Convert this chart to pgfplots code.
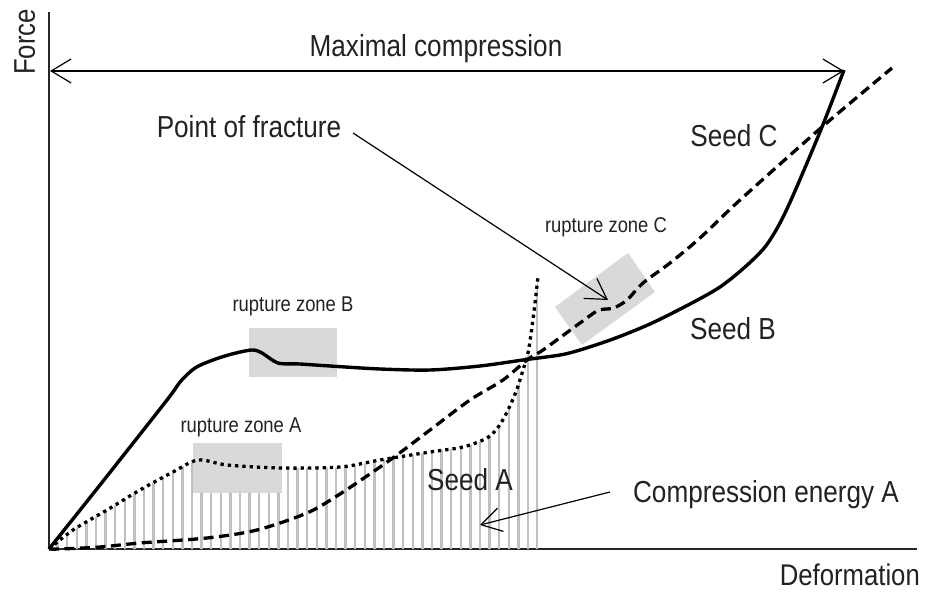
\documentclass[border=0pt]{standalone}
\usepackage{pgfplots}
\pgfplotsset{compat=1.18}
\usepackage{fontspec}
\setmainfont{Liberation Sans}[FakeStretch=0.86]
\usetikzlibrary{arrows.meta,patterns.meta}
\definecolor{txt}{HTML}{222222}
\definecolor{zone}{HTML}{D9D9D9}
\definecolor{hatch}{HTML}{C0C0C0}
\pgfplotstableread{
x y
49 0
73 19
107 39
140 59
173 77
198 89
227 84
280 81
340 82
380 89
430 97
463 102
487 111
499 123
509 141
517 160
523 179
528 196
532 222
535 246
538 272
}\seedA
\pgfplotstableread{
x y
49 0
100 64
167 149
180 167
195 181
213 189
232 195
252 199
262 196
278 186
300 185
330 183
380 180
430 179
480 183
523 189
560 194
580 199
613 210
650 225
690 245
720 262
745 282
765 302
780 326
795 358
822 422
844 479
}\seedB
\pgfplotstableread{
x y
49 0
60 0
100 2
140 6
207 11
257 19
307 36
340 55
390 89
430 119
470 149
503 169
527 189
543 199
580 226
597 238
606 240
614 241
627 249
643 266
670 286
700 311
740 349
822 422
892 481
}\seedC
\begin{document}
\begin{tikzpicture}
\begin{axis}[
  width=868bp, height=537bp, scale only axis,
  xmin=49, xmax=917, ymin=0, ymax=537,
  axis x line=bottom, axis y line=left,
  axis line style={-, line width=1.6bp, draw=black!85},
  xtick=\empty, ytick=\empty,
  clip=false,
]
\path (axis cs:0,-46) rectangle (axis cs:928,549);
% hatched area under seed A
\addplot[draw=none, pattern={Lines[angle=90,distance=9.6bp,line width=2.3bp]}, pattern color=hatch, smooth] table {\seedA} \closedcycle;
% rupture zones
\addplot[draw=none, fill=zone] coordinates {(193,56) (282,56) (282,106) (193,106)} -- cycle;
\addplot[draw=none, fill=zone] coordinates {(249,172) (337,172) (337,221) (249,221)} -- cycle;
\addplot[draw=none, fill=zone] coordinates {(555,242) (628,296) (655,257) (582,204)} -- cycle;
% curves
\addplot[black, line width=3.3bp, dash pattern=on 3.3bp off 4bp, smooth] table {\seedA};
\addplot[black, line width=3.4bp, smooth] table {\seedB};
\addplot[black, line width=3.3bp, dash pattern=on 10bp off 5.5bp, smooth] table {\seedC};
% arrows
\addplot[black, line width=1.2bp, {Straight Barb[length=20bp,width=24bp]}-{Straight Barb[length=20bp,width=24bp]}] coordinates {(50,478) (844,478)};
\addplot[black, line width=1.2bp, -{Straight Barb[length=20bp,width=24bp]}] coordinates {(353,416) (608,249)};
\addplot[black, line width=1.2bp, -{Straight Barb[length=20bp,width=24bp]}] coordinates {(610,57) (480,24)};
% texts
\begin{scope}[every node/.style={inner sep=0pt, text=txt}]
\node[anchor=base, font=\fontsize{30.5}{36}\selectfont] at (axis cs:436,492) {Maximal compression};
\node[anchor=base, font=\fontsize{30.5}{36}\selectfont] at (axis cs:249,411) {Point of fracture};
\node[anchor=base, font=\fontsize{30.5}{36}\selectfont] at (axis cs:734,402) {Seed C};
\node[anchor=base, font=\fontsize{30.5}{36}\selectfont] at (axis cs:733,209) {Seed B};
\node[anchor=base, font=\fontsize{30.5}{36}\selectfont] at (axis cs:470,59) {Seed A};
\node[anchor=base, font=\fontsize{30.5}{36}\selectfont] at (axis cs:766,47) {Compression energy A};
\node[anchor=base, font=\fontsize{21.5}{26}\selectfont] at (axis cs:606,316) {rupture zone C};
\node[anchor=base, font=\fontsize{21.5}{26}\selectfont] at (axis cs:293,237) {rupture zone B};
\node[anchor=base, font=\fontsize{21.5}{26}\selectfont] at (axis cs:241,116) {rupture zone A};
\node[anchor=base east, font=\fontsize{30}{36}\selectfont] at (axis cs:920,-36) {Deformation};
\node[anchor=base, rotate=90, font=\fontsize{30}{36}\selectfont] at (axis cs:35,507) {Force};
\end{scope}
\end{axis}
\end{tikzpicture}
\end{document}
